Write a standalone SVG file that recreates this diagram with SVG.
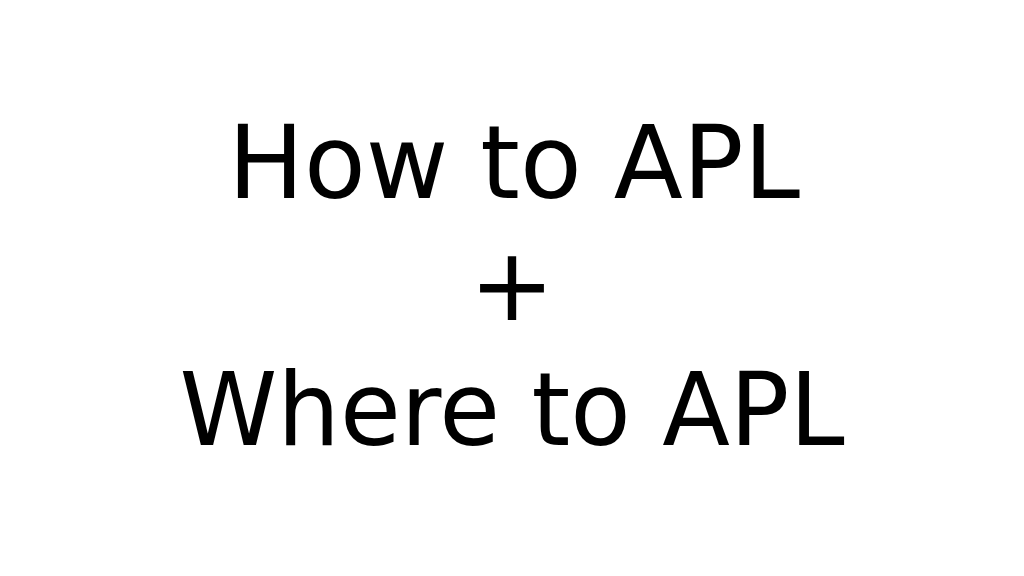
<svg xmlns="http://www.w3.org/2000/svg" width="1024" height="576" viewBox="0 0 1024 576">
<style>text{font-family:"DejaVu Sans",sans-serif;font-size:102px;fill:#000;text-anchor:middle}</style>
<rect width="1024" height="576" fill="#fff"/>
<g id="title">
<text x="514" y="198" textLength="572" lengthAdjust="spacingAndGlyphs">How to APL</text>
<text x="512" y="320">+</text>
<text x="512" y="445" textLength="665" lengthAdjust="spacingAndGlyphs">Where to APL</text>
</g>
</svg>
